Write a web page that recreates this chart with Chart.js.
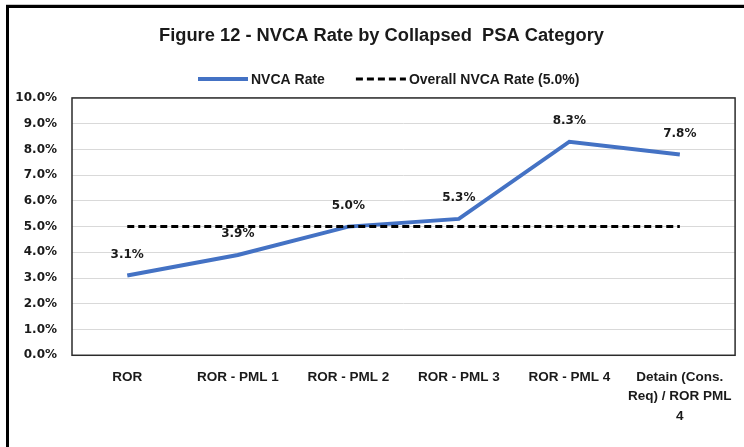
<!DOCTYPE html>
<html>
<head>
<meta charset="utf-8">
<script src="https://cdn.jsdelivr.net/npm/chart.js@4.4.1/dist/chart.umd.min.js"></script>
<style>
  html, body { margin: 0; padding: 0; background: #fff; }
  #wrap { position: relative; width: 744px; height: 447px; overflow: hidden; }
  #frame {
    position: absolute; left: 6px; top: 5px; width: 760px; height: 460px;
    border-left: 3px solid #000; border-top: 3px solid #000;
    box-shadow: 0 -1px 0 #c8c8c8;
  }
  #chart { position: absolute; left: 0; top: 0; }
</style>
</head>
<body>
<div id="wrap">
  <div id="frame"></div>
  <canvas id="chart" width="744" height="447"></canvas>
</div>
<script>
// ===== DATA =====
const categories = [
  'ROR',
  'ROR - PML 1',
  'ROR - PML 2',
  'ROR - PML 3',
  'ROR - PML 4',
  ['Detain (Cons.', 'Req) / ROR PML', '4']
];
const nvcaRate = [3.1, 3.9, 5.0, 5.3, 8.3, 7.8];
const overallRate = [5.0, 5.0, 5.0, 5.0, 5.0, 5.0];
const seriesNames = ['NVCA Rate', 'Overall NVCA Rate (5.0%)'];
const yMin = 0;
const yMax = 10;
const yStep = 1;

const SANS = "'Liberation Sans', sans-serif";
const WIDE = "'DejaVu Sans', sans-serif";
const TEXT = '#1a1a1a';

// ===== TITLE NUDGE (Excel title sits a bit right of the canvas centre) =====
const titleNudge = {
  id: 'titleNudge',
  afterLayout(chart) {
    if (chart.titleBlock) chart.titleBlock.left += 24;
  }
};

// ===== PLOT FRAME (border round the plot area) =====
const plotFrame = {
  id: 'plotFrame',
  beforeDatasetsDraw(chart) {
    const { ctx, chartArea: a } = chart;
    ctx.save();
    ctx.strokeStyle = '#2b2b2b';
    ctx.lineWidth = 1.5;
    ctx.strokeRect(a.left, a.top, a.right - a.left, a.bottom - a.top);
    ctx.restore();
  }
};

// ===== VALUE LABELS above the blue line (drawn before the dashed line) =====
const valueLabels = {
  id: 'valueLabels',
  afterDatasetDraw(chart, args) {
    if (args.index !== 0) return;
    const { ctx } = chart;
    const ds = chart.data.datasets[0];
    ctx.save();
    ctx.font = 'bold 12px ' + WIDE;
    ctx.fillStyle = TEXT;
    ctx.textAlign = 'center';
    ctx.textBaseline = 'middle';
    args.meta.data.forEach((pt, i) => {
      ctx.fillText(ds.data[i].toFixed(1) + '%', pt.x, pt.y - 21);
    });
    ctx.restore();
  }
};

// ===== LEGEND (placed like the Excel one) =====
const lineLegend = {
  id: 'lineLegend',
  afterDraw(chart) {
    const { ctx } = chart;
    const y = 79;
    let x = 198;
    ctx.save();
    ctx.font = 'bold 14px ' + SANS;
    ctx.textBaseline = 'middle';
    ctx.textAlign = 'left';
    chart.data.datasets.forEach(ds => {
      ctx.beginPath();
      ctx.strokeStyle = ds.borderColor;
      ctx.lineWidth = ds.borderWidth;
      ctx.setLineDash(ds.borderDash || []);
      ctx.lineCap = 'butt';
      ctx.moveTo(x, y);
      ctx.lineTo(x + 50, y);
      ctx.stroke();
      ctx.setLineDash([]);
      ctx.fillStyle = TEXT;
      ctx.fillText(ds.label, x + 53, y + 1);
      x += 53 + ctx.measureText(ds.label).width + 31;
    });
    ctx.restore();
  }
};

new Chart(document.getElementById('chart'), {
  type: 'line',
  data: {
    labels: categories,
    datasets: [
      {
        label: seriesNames[0],
        data: nvcaRate,
        borderColor: '#4472C4',
        borderWidth: 4,
        pointRadius: 0,
        tension: 0,
        fill: false,
        order: 2
      },
      {
        label: seriesNames[1],
        data: overallRate,
        borderColor: '#000000',
        borderWidth: 3,
        borderDash: [7, 4],
        pointRadius: 0,
        tension: 0,
        fill: false,
        order: 1
      }
    ]
  },
  options: {
    responsive: false,
    animation: false,
    layout: { padding: { left: 0, right: 5, top: 0, bottom: 9 } },
    plugins: {
      legend: { display: false },
      tooltip: { enabled: false },
      title: {
        display: true,
        text: 'Figure 12 - NVCA Rate by Collapsed  PSA Category',
        color: TEXT,
        font: { family: SANS, size: 18.3, weight: 'bold', lineHeight: 1.2 },
        padding: { top: 25, bottom: 51 }
      }
    },
    scales: {
      x: {
        offset: true,
        grid: { display: false, drawTicks: false },
        border: { display: false },
        ticks: {
          color: TEXT,
          padding: 12,
          maxRotation: 0,
          autoSkip: false,
          font: { family: SANS, size: 13.5, weight: 'bold', lineHeight: 1.45 }
        }
      },
      y: {
        min: yMin,
        max: yMax,
        afterFit(scale) { scale.width = 72; },
        grid: { color: '#d9d9d9', lineWidth: 1, drawTicks: false },
        border: { display: false },
        ticks: {
          stepSize: yStep,
          color: TEXT,
          padding: 15,
          font: { family: WIDE, size: 12, weight: 'bold' },
          callback: v => v.toFixed(1) + '%'
        }
      }
    }
  },
  plugins: [titleNudge, plotFrame, valueLabels, lineLegend]
});
</script>
</body>
</html>
